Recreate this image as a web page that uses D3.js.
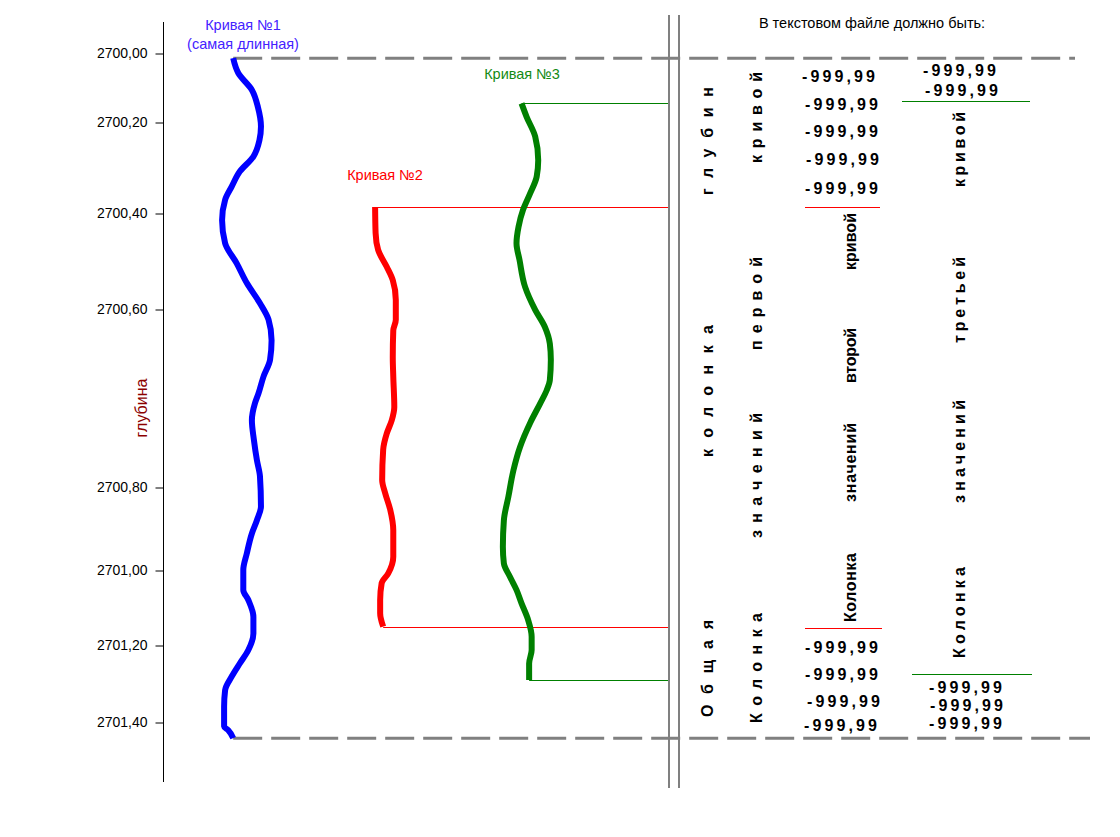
<!DOCTYPE html>
<html><head><meta charset="utf-8">
<script src="https://cdn.jsdelivr.net/npm/d3@7"></script>
<style>
html,body{margin:0;padding:0;background:#fff;}
svg{display:block;font-family:"Liberation Sans",Arial,sans-serif;}
</style></head><body>
<svg id="chart" width="1120" height="837"></svg>
<script>
// ---------- DATA ----------
const depthTicks = [2700.0, 2700.2, 2700.4, 2700.6, 2700.8, 2701.0, 2701.2, 2701.4];
const depthTickLabels = ["2700,00", "2700,20", "2700,40", "2700,60", "2700,80", "2701,00", "2701,20", "2701,40"];
const depthAxisTitle = "глубина";
const curveNames = ["Кривая №1", "Кривая №2", "Кривая №3"];
const curve1Note = "(самая длинная)";
const fileTitle = "В текстовом файле должно быть:";
const nullValue = "-999,99";

// [depth, value]
const curve1 = [[2700.015,13.9],[2700.058,14.9],[2700.107,17.6],[2700.157,18.8],[2700.210,19.4],[2700.240,19.1],[2700.276,17.9],[2700.309,15.2],[2700.342,13.6],[2700.371,12.3],[2700.415,11.7],[2700.463,12.3],[2700.505,14.6],[2700.546,16.6],[2700.588,19.2],[2700.612,20.9],[2700.635,21.5],[2700.657,21.2],[2700.676,19.9],[2700.695,18.9],[2700.706,18.2],[2700.725,17.6],[2700.747,18.0],[2700.770,18.6],[2700.788,19.2],[2700.847,19.4],[2700.880,18.6],[2700.912,17.6],[2700.960,16.6],[2701.000,15.9],[2701.053,15.9],[2701.080,16.9],[2701.125,17.9],[2701.169,17.9],[2701.213,16.9],[2701.248,15.2],[2701.282,13.6],[2701.317,12.3],[2701.360,12.1],[2701.412,12.1],[2701.421,12.9],[2701.442,13.9]];
const curve2 = [[2700.387,42.0],[2700.442,42.1],[2700.477,42.6],[2700.512,44.3],[2700.540,45.5],[2700.581,46.1],[2700.612,46.1],[2700.624,45.6],[2700.654,45.5],[2700.676,45.6],[2700.710,45.8],[2700.725,45.3],[2700.740,44.3],[2700.758,43.6],[2700.792,43.4],[2700.815,44.0],[2700.855,45.0],[2700.904,45.6],[2700.968,45.6],[2701.009,44.6],[2701.035,43.3],[2701.080,43.0],[2701.115,43.0],[2701.151,43.6]];
const curve3 = [[2700.146,71.0],[2700.185,72.0],[2700.232,73.7],[2700.284,74.3],[2700.320,74.0],[2700.357,72.7],[2700.393,71.3],[2700.429,70.4],[2700.463,70.0],[2700.498,70.6],[2700.554,71.7],[2700.601,73.7],[2700.620,75.6],[2700.639,76.6],[2700.657,76.8],[2700.680,76.6],[2700.691,76.0],[2700.706,74.7],[2700.728,72.7],[2700.755,70.7],[2700.781,69.4],[2700.823,68.4],[2700.880,67.5],[2700.944,67.3],[2700.984,67.5],[2701.018,68.7],[2701.053,70.0],[2701.089,71.0],[2701.133,72.3],[2701.178,73.0],[2701.213,73.0],[2701.248,72.5],[2701.291,72.5]];
const curve2Separators = [2700.387, 2701.155];
const curve3Separators = [2700.139, 2701.275];

const depthColumnWords = ["Общая", "колонка", "глубин"];
const firstColumnWords = ["Колонка", "значений", "первой", "кривой"];
const secondColumnWords = ["Колонка", "значений", "второй", "кривой"];
const thirdColumnWords = ["Колонка", "значений", "третьей", "кривой"];
const secondTopCount = 5, secondBottomCount = 4, thirdTopCount = 2, thirdBottomCount = 3;

// ---------- LAYOUT ----------
const FONT = "'Liberation Sans', Arial, sans-serif";
const svg = d3.select("#chart");
const y = d3.scaleLinear().domain(depthTicks).range([53, 122, 213, 309, 487, 570, 645, 722]);
const x = d3.scaleLinear().domain([0, 100]).range([163, 668]);
const colors = ["#0000ff", "#ff0000", "#008000"];
const labelColors = ["#4422ff", "#ff0000", "#138a13"];
const curves = [curve1, curve2, curve3];

// depth axis
const axisG = svg.append("g").attr("transform", "translate(163.5,0.5)")
  .call(d3.axisLeft(y).tickValues(depthTicks).tickFormat((d, i) => depthTickLabels[i]).tickSize(8).tickPadding(8));
axisG.select(".domain").remove();
axisG.attr("font-family", FONT).attr("font-size", 14);
axisG.selectAll("text").attr("fill", "#000");
axisG.selectAll("line").attr("stroke", "#000");
svg.append("line").attr("x1", 163.5).attr("x2", 163.5).attr("y1", 22).attr("y2", 782).attr("stroke", "#000");
svg.append("text").attr("transform", "translate(143,408) rotate(-90)").attr("text-anchor", "middle")
  .attr("dominant-baseline", "middle").attr("font-size", 16).attr("fill", "#8b0000").text(depthAxisTitle);

// dashed boundaries of longest curve
const c1first = curve1[0], c1last = curve1[curve1.length - 1];
[[c1first, 1075], [c1last, 1090]].forEach(([p, xe]) => {
  svg.append("line").attr("x1", x(p[1])).attr("x2", xe).attr("y1", y(p[0])).attr("y2", y(p[0]))
    .attr("stroke", "#808080").attr("stroke-width", 3).attr("stroke-dasharray", "29,9");
});

// connectors
[[curve2, colors[1]], [curve3, colors[2]]].forEach(([c, col]) => {
  [c[0], c[c.length - 1]].forEach(p => {
    const yy = Math.round(y(p[0])) + 0.5;
    svg.append("line").attr("x1", x(p[1])).attr("x2", x(100)).attr("y1", yy).attr("y2", yy)
      .attr("stroke", col).attr("stroke-width", 1);
  });
});

// curves
const line = d3.line().x(d => x(d[1])).y(d => y(d[0])).curve(d3.curveMonotoneY);
curves.forEach((c, i) => {
  svg.append("path").datum(c).attr("d", line).attr("fill", "none").attr("stroke", colors[i])
    .attr("stroke-width", 6).attr("stroke-linejoin", "round");
});

// curve labels
const lab = (t, cx, cy, col) => svg.append("text").attr("x", cx).attr("y", cy).attr("text-anchor", "middle")
  .attr("dominant-baseline", "middle").attr("font-size", 14.5).attr("fill", col).text(t);
lab(curveNames[0], 243, 26, labelColors[0]);
lab(curve1Note, 243, 45, labelColors[0]);
lab(curveNames[1], 385, 176, labelColors[1]);
lab(curveNames[2], 522, 75, labelColors[2]);

// double separator
[669, 679].forEach(xx => svg.append("line").attr("x1", xx).attr("x2", xx).attr("y1", 15).attr("y2", 788)
  .attr("stroke", "#808080").attr("stroke-width", 2));

// right panel
svg.append("text").attr("x", 872).attr("y", 24).attr("text-anchor", "middle").attr("dominant-baseline", "middle")
  .attr("font-size", 14.5).attr("fill", "#000").text(fileTitle);

function vwords(words, cx, spans) {
  words.forEach((w, i) => {
    const [ys, len] = spans[i];
    svg.append("text").attr("transform", `translate(${cx},${ys}) rotate(-90)`)
      .attr("font-size", 16).attr("font-weight", "bold").attr("dominant-baseline", "middle")
      .attr("fill", "#000").attr("textLength", len).attr("lengthAdjust", "spacing").text(w);
  });
}
vwords(depthColumnWords, 709, [[717, 97], [457, 132], [195, 108]]);
vwords(firstColumnWords, 758, [[723, 110], [538, 125], [350, 93], [163, 91]]);
vwords(secondColumnWords, 852, [[622, 69], [502, 79], [383, 55], [270, 57]]);
vwords(thirdColumnWords, 961, [[658, 91], [503, 103], [343, 86], [187, 75]]);

function values(n, pos) {
  d3.range(n).forEach(i => {
    svg.append("text").attr("x", pos[i][0]).attr("y", pos[i][1]).attr("dominant-baseline", "central")
      .attr("font-size", 16).attr("font-weight", "bold").attr("fill", "#000")
      .attr("textLength", 73).attr("lengthAdjust", "spacing").text(nullValue);
  });
}
values(secondTopCount, [[802, 76], [805, 104], [805, 131], [806, 159], [805, 188]]);
values(secondBottomCount, [[805, 647.5], [805, 674], [807, 701], [804, 725]]);
values(thirdTopCount, [[923, 70.5], [925, 90]]);
values(thirdBottomCount, [[929, 687], [930, 705], [929, 723]]);

// separators in value columns
const sep = (d, x1, x2, col) => {
  const yy = Math.round(y(d)) + 0.5;
  svg.append("line").attr("x1", x1).attr("x2", x2).attr("y1", yy).attr("y2", yy).attr("stroke", col).attr("stroke-width", 1);
};
sep(curve2Separators[0], 805, 880, colors[1]);
sep(curve2Separators[1], 805, 882, colors[1]);
sep(curve3Separators[0], 902, 1030, colors[2]);
sep(curve3Separators[1], 912, 1032, colors[2]);
</script>
</body></html>
